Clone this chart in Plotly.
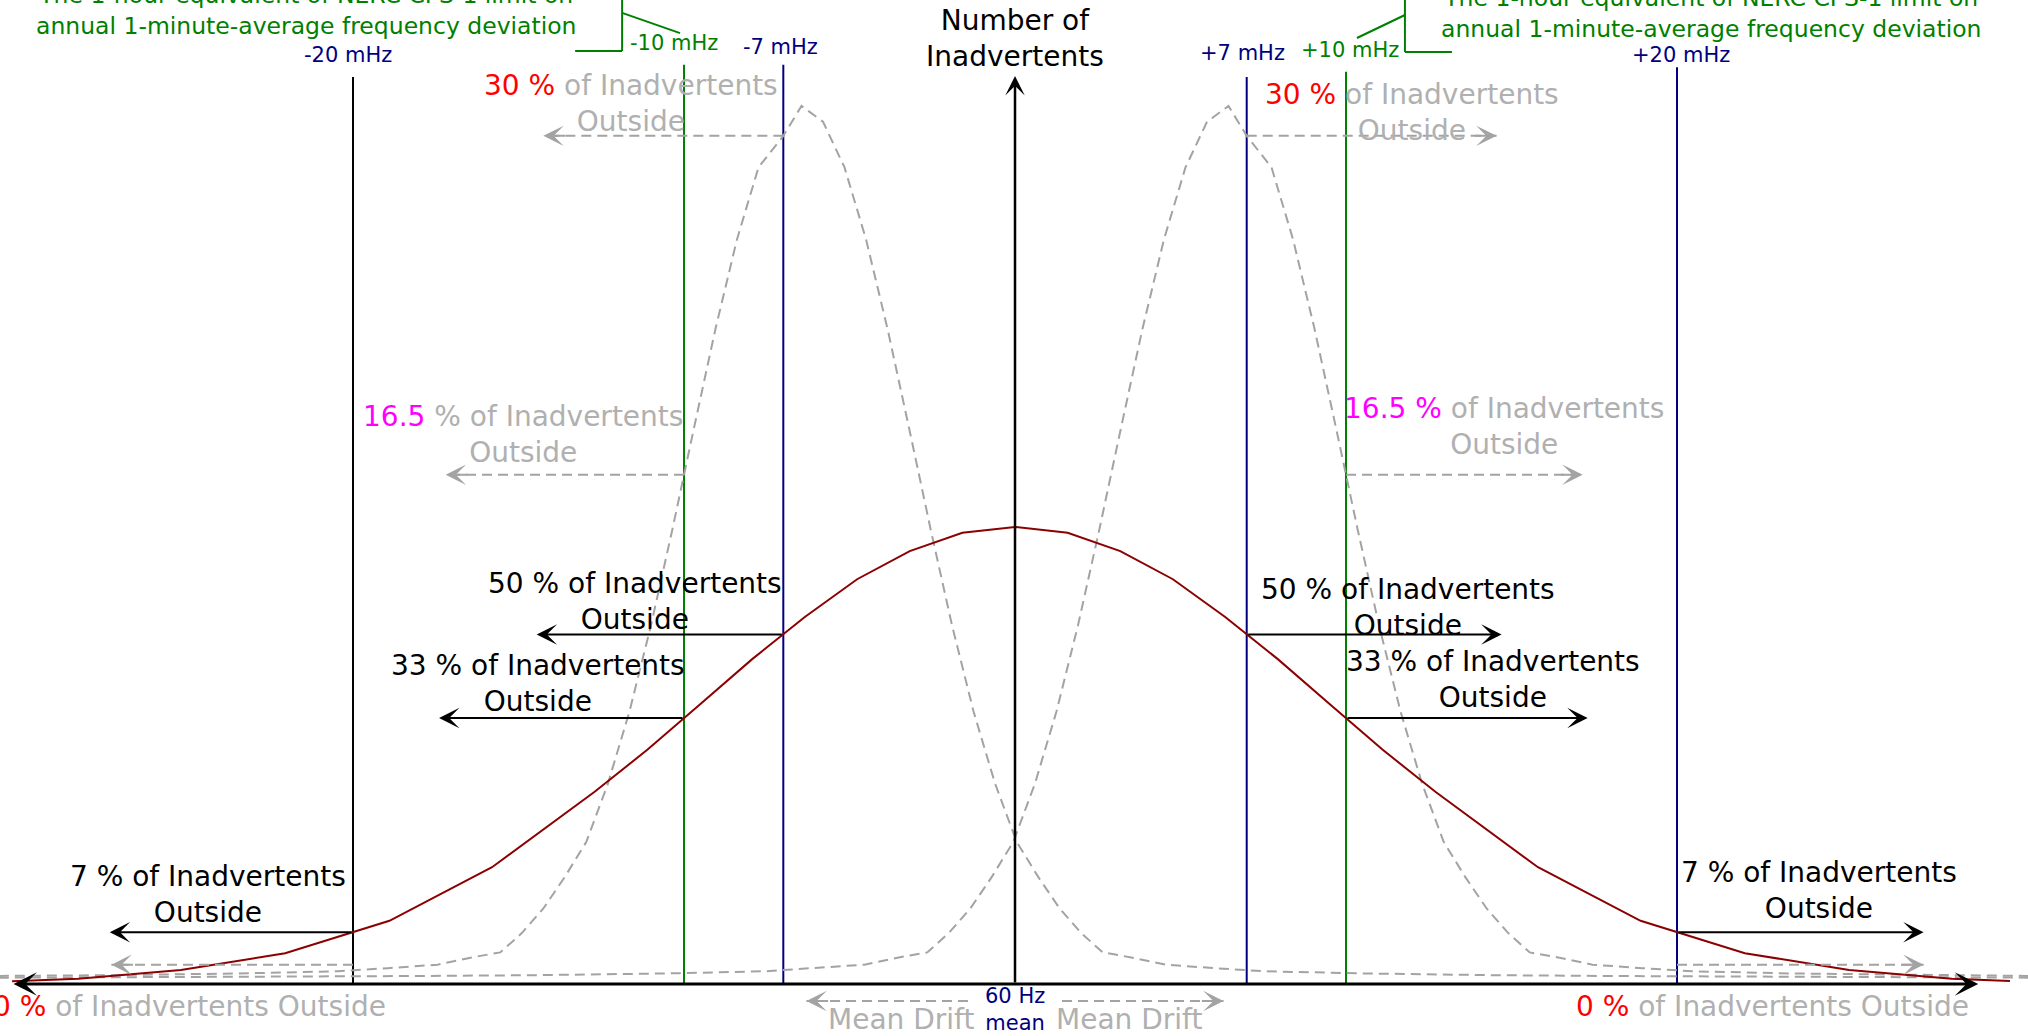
import plotly.graph_objects as go

FONT = "DejaVu Sans, Liberation Sans, Arial, sans-serif"
NAVY = "#00007f"
GREEN = "#008000"
RED = "#ff0000"
MAGENTA = "#ff00ff"
DARKRED = "#8b0000"
GRAY_TEXT = "#b0b0b0"
GRAY_LINE = "#a3a3a3"
BLACK = "#000000"

# ---------------- data ----------------
# Frequency-deviation thresholds (mHz from 60 Hz)
thresholds = [-20, -10, -7, 7, 10, 20]
threshold_labels = ["-20 mHz", "-10 mHz", "-7 mHz", "+7 mHz", "+10 mHz", "+20 mHz"]

# Share of inadvertents outside each threshold (%)
hour_outside = [7, 33, 50, 50, 33, 7]
minute_outside = [0, 16.5, 30, 30, 16.5, 0]

# 1-hour average deviation distribution (solid)
hour_x = [-30.3, -28.3, -25.2, -22.05, -18.9, -15.8, -12.7, -11.1, -9.53, -7.94,
          -6.35, -4.77, -3.18, -1.59, 0, 1.59, 3.18, 4.77, 6.35, 7.94,
          9.53, 11.1, 12.7, 15.8, 18.9, 22.05, 25.2, 28.3, 30.06]
hour_y = [0.3, 0.6, 1.6, 3.5, 7.2, 13.3, 21.9, 26.7, 31.8, 37.0,
          41.8, 46.1, 49.3, 51.4, 52.05, 51.4, 49.3, 46.1, 41.8, 37.0,
          31.8, 26.7, 21.9, 13.3, 7.2, 3.5, 1.6, 0.6, 0.35]

# 1-minute average deviation distribution, drifted below the mean (dashed)
minute_lo_x = [-30.7, -27.45, -23.45, -20.45, -18.95, -17.45, -16.45, -15.55, -14.9, -14.25,
               -13.6, -12.95, -12.3, -11.65, -11.0, -10.35, -9.7, -9.05, -8.4, -7.75,
               -7.0, -6.45, -5.8, -5.15, -4.5, -3.85, -3.2, -2.55, -1.9, -1.25,
               -0.6, 0.05, 0.7, 1.35, 2.0, 2.65, 3.55, 4.55, 6.05, 7.55,
               10.55, 14.55, 18.55, 23.55, 30.7]
minute_lo_y = [0.92, 1.0, 1.2, 1.45, 1.8, 2.2, 3.0, 3.6, 5.8, 8.6,
               12.2, 16.2, 22.8, 31.0, 40.8, 51.8, 63.3, 74.6, 84.8, 93.0,
               96.6, 100, 98.2, 93.0, 84.8, 74.6, 63.3, 51.8, 40.8, 31.0,
               22.8, 16.2, 12.2, 8.6, 5.8, 3.6, 3.0, 2.2, 1.8, 1.45,
               1.2, 1.0, 0.9, 0.8, 0.72]

# 1-minute average deviation distribution, drifted above the mean (dashed)
minute_hi_x = [-30.7, -23.55, -18.55, -14.55, -10.55, -7.55, -6.05, -4.55, -3.55, -2.65,
               -2.0, -1.35, -0.7, -0.05, 0.6, 1.25, 1.9, 2.55, 3.2, 3.85,
               4.5, 5.15, 5.8, 6.45, 7.0, 7.75, 8.4, 9.05, 9.7, 10.35,
               11.0, 11.65, 12.3, 12.95, 13.6, 14.25, 14.9, 15.55, 16.45, 17.45,
               18.95, 20.45, 23.45, 27.45, 30.7]
minute_hi_y = [0.72, 0.8, 0.9, 1.0, 1.2, 1.45, 1.8, 2.2, 3.0, 3.6,
               5.8, 8.6, 12.2, 16.2, 22.8, 31.0, 40.8, 51.8, 63.3, 74.6,
               84.8, 93.0, 98.2, 100, 96.6, 93.0, 84.8, 74.6, 63.3, 51.8,
               40.8, 31.0, 22.8, 16.2, 12.2, 8.6, 5.8, 3.6, 3.0, 2.2,
               1.8, 1.45, 1.2, 1.0, 0.92]

# Curve heights where each threshold is crossed (arrow levels)
hour_at_threshold = [5.9, 30.3, 39.8, 39.8, 30.3, 5.9]
minute_at_threshold = [2.2, 58.0, 96.6, 96.6, 58.0, 2.2]

# Reach of the "outside" arrows (mHz)
hour_arrow_end = [-27.35, -17.4, -14.45, 14.7, 17.3, 27.45]
minute_arrow_end = [-27.3, -17.2, -14.25, 14.55, 17.15, 27.45]

# Mean drift of the 1-minute distributions (mHz)
mean_drift = 6.3

# ---------------- figure ----------------
fig = go.Figure()

dash = "10px,6px"
fig.add_trace(go.Scatter(x=minute_lo_x, y=minute_lo_y, mode="lines",
                         line=dict(color=GRAY_LINE, width=2, dash=dash), hoverinfo="skip"))
fig.add_trace(go.Scatter(x=minute_hi_x, y=minute_hi_y, mode="lines",
                         line=dict(color=GRAY_LINE, width=2, dash=dash), hoverinfo="skip"))
fig.add_trace(go.Scatter(x=hour_x, y=hour_y, mode="lines",
                         line=dict(color=DARKRED, width=2), hoverinfo="skip"))

# threshold verticals
line_colors = [BLACK, GREEN, NAVY, NAVY, GREEN, NAVY]
line_tops = [103.3, 104.7, 104.7, 103.3, 103.9, 104.4]
for t, c, top in zip(thresholds, line_colors, line_tops):
    fig.add_shape(type="line", xref="x", yref="y", x0=t, x1=t, y0=0, y1=top,
                  line=dict(color=c, width=2), layer="below")

# threshold labels
label_colors = [NAVY, GREEN, NAVY, NAVY, GREEN, NAVY]
label_x = [-20.15, -10.3, -7.07, 6.86, 10.12, 20.12]
label_y = [105.8, 107.2, 106.7, 106.0, 106.4, 105.8]
for lx, ly, txt, c in zip(label_x, label_y, threshold_labels, label_colors):
    fig.add_annotation(x=lx, y=ly, xref="x", yref="y", text=txt, showarrow=False,
                       xanchor="center", yanchor="middle",
                       font=dict(family=FONT, size=21, color=c))


def text(x, y, s, size=28, color=BLACK):
    fig.add_annotation(x=x, y=y, xref="x", yref="y", text=s, showarrow=False,
                       xanchor="center", yanchor="middle", align="center",
                       font=dict(family=FONT, size=size, color=color))


def arrow(x_tip, y_tip, x_tail, y_tail, color=BLACK, width=2, size=1.7, both=False):
    fig.add_annotation(x=x_tip, y=y_tip, ax=x_tail, ay=y_tail,
                       xref="x", yref="y", axref="x", ayref="y", text="",
                       showarrow=True, arrowhead=3, arrowsize=size, arrowwidth=width,
                       arrowcolor=color, startarrowhead=3, startarrowsize=size,
                       arrowside="end+start" if both else "end")


# axes drawn as arrows
arrow(29.1, 0, -30.3, 0, width=3, size=1.3, both=True)
arrow(0, 103.4, 0, 0, width=2.5, size=1.3)
text(0, 107.63, "Number of<br>Inadvertents")

# hourly "outside" arrows (solid black)
for t, y, xe in zip(thresholds, hour_at_threshold, hour_arrow_end):
    arrow(xe, y, t, y)

# minute "outside" arrows (dashed grey)
for t, y, xe in zip(thresholds, minute_at_threshold, minute_arrow_end):
    fig.add_shape(type="line", xref="x", yref="y", x0=t, x1=xe, y0=y, y1=y,
                  line=dict(color=GRAY_LINE, width=2, dash=dash))
    back = 0.7 if xe > t else -0.7
    arrow(xe, y, xe - back, y, color=GRAY_LINE)

# hourly labels
hour_label_pos = [(-24.38, 10.19), (-14.41, 34.22), (-11.48, 43.62),
                  (11.87, 42.88), (14.44, 34.68), (24.3, 10.65)]
for p, (lx, ly) in zip(hour_outside, hour_label_pos):
    text(lx, ly, f"{p:g} % of Inadvertents<br>Outside")

# minute labels
pct_color = {0: RED, 16.5: MAGENTA, 30: RED}
minute_label_pos = [(-24.95, -2.6), (-14.86, 62.64), (-11.6, 100.23),
                    (12.0, 99.26), (14.78, 63.55), (22.87, -2.6)]
for i, (p, (lx, ly)) in enumerate(zip(minute_outside, minute_label_pos)):
    c = pct_color[p]
    if p == 0:
        s = f'<span style="color:{c}">{p:g} %</span> of Inadvertents Outside'
    elif i == 1:
        s = f'<span style="color:{c}">{p:g}</span> % of Inadvertents<br>Outside'
    else:
        s = f'<span style="color:{c}">{p:g} %</span> of Inadvertents<br>Outside'
    text(lx, ly, s, color=GRAY_TEXT)

# mean drift arrows under the axis
for sgn in (-1, 1):
    fig.add_shape(type="line", xref="x", yref="y", x0=sgn * 1.42, x1=sgn * mean_drift,
                  y0=-1.94, y1=-1.94, line=dict(color=GRAY_LINE, width=2, dash=dash))
    arrow(sgn * mean_drift, -1.94, sgn * (mean_drift - 0.7), -1.94, color=GRAY_LINE)
    text(sgn * 3.43, -4.1, "Mean Drift", color=GRAY_TEXT)
text(0, -2.9, "60 Hz<br>mean", size=21, color=NAVY)

# CPS-1 callouts
cps_note = "The 1-hour equivalent of NERC CPS-1 limit on<br>annual 1-minute-average frequency deviation"
for cx, cy in [(-21.42, 110.82), (21.03, 110.48)]:
    text(cx, cy, cps_note, size=23.5, color=GREEN)

bracket = [
    (-11.87, -11.87, 106.26, 112.07), (-13.29, -11.87, 106.26, 106.26),
    (-11.87, -10.12, 110.6, 108.3),
    (11.78, 11.78, 106.15, 112.07), (11.78, 13.2, 106.15, 106.15),
    (11.78, 10.33, 110.36, 107.74),
]
for x0, x1, y0, y1 in bracket:
    fig.add_shape(type="line", xref="x", yref="y", x0=x0, x1=x1, y0=y0, y1=y1,
                  line=dict(color=GREEN, width=2))

fig.update_layout(
    width=2028, height=1036, autosize=False,
    margin=dict(l=0, r=0, t=0, b=0),
    paper_bgcolor="white", plot_bgcolor="white", showlegend=False,
    xaxis=dict(range=[-30.665, 30.604], visible=False, fixedrange=True),
    yaxis=dict(range=[-5.923, 112.07], visible=False, fixedrange=True),
    font=dict(family=FONT),
)

fig.write_html("out.html", config={"displayModeBar": False},
               post_script="document.body.style.margin='0';")
